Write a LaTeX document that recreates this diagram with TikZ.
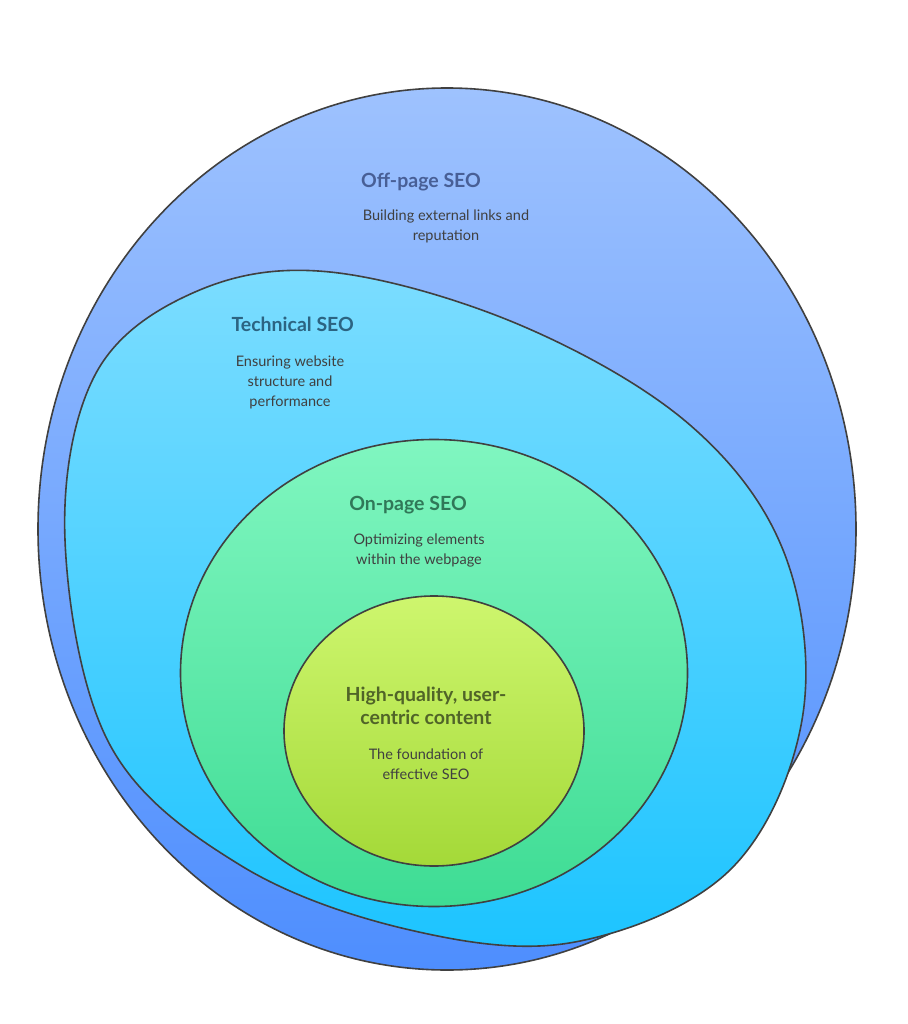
\documentclass[tikz,border=0pt]{standalone}
\usepackage{fontspec}
\setmainfont{Lato}
\begin{document}
\begin{tikzpicture}[x=1pt,y=-1pt,
  blob/.style={draw=black!75,line width=1.6pt},
  ttl/.style={font=\bfseries\fontsize{19.5}{23}\selectfont,align=center},
  dsc/.style={font=\fontsize{14.5}{20}\selectfont,align=center}]
\useasboundingbox (0,0) rectangle (907,1024);
\path[blob,top color={rgb,255:red,158;green,194;blue,254},bottom color={rgb,255:red,78;green,142;blue,254}]
 (447,529) ellipse[x radius=409,y radius=441];
\path[blob,top color={rgb,255:red,124;green,221;blue,255},bottom color={rgb,255:red,28;green,196;blue,255}]
 plot[smooth cycle,tension=0.6] coordinates{(330,272)(520,325)(690,425)(785,555)(802,720)(730,870)(575,942)(410,930)(240,865)(110,745)(65,540)(95,375)(195,292)};
\path[blob,top color={rgb,255:red,128;green,246;blue,192},bottom color={rgb,255:red,62;green,220;blue,148}]
 (434,673) ellipse[x radius=253.5,y radius=233.5];
\path[blob,top color={rgb,255:red,206;green,246;blue,110},bottom color={rgb,255:red,164;green,217;blue,56}]
 (434,731) ellipse[x radius=150,y radius=135];
\node[ttl,text={rgb,255:red,72;green,95;blue,150}] (t1) at (421,182) {Off-page SEO};
\node[dsc,text=black!75] (d1) at (446,226) {Building external links and\\reputation};
\node[ttl,text={rgb,255:red,44;green,100;blue,130},anchor=west] (t2) at (228,324) {Technical SEO};
\node[dsc,text=black!75] (d2) at (290,382) {Ensuring website\\structure and\\performance};
\node[ttl,text={rgb,255:red,48;green,120;blue,88}] (t3) at (408,505) {On-page SEO};
\node[dsc,text=black!75] (d3) at (419,550) {Optimizing elements\\within the webpage};
\node[ttl,text={rgb,255:red,80;green,100;blue,40}] (t4) at (426,706) {High-quality, user-\\centric content};
\node[dsc,text=black!75] (d4) at (426,764) {The foundation of\\effective SEO};
\end{tikzpicture}
\end{document}
